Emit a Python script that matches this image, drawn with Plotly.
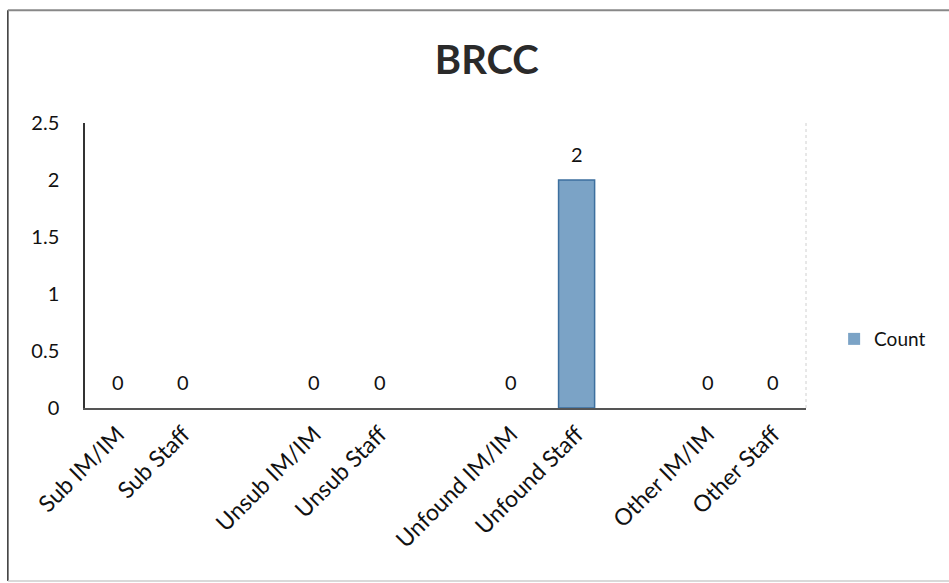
import plotly.graph_objects as go

title = "BRCC"
categories = ["Sub IM/IM", "Sub Staff", "Unsub IM/IM", "Unsub Staff",
              "Unfound IM/IM", "Unfound Staff", "Other IM/IM", "Other Staff"]
counts = [0, 0, 0, 0, 0, 2, 0, 0]
# axis slot order, with blank spacer slots between the groups
slot_order = ["Sub IM/IM", "Sub Staff", " ", "Unsub IM/IM", "Unsub Staff", "  ",
              "Unfound IM/IM", "Unfound Staff", "   ", "Other IM/IM", "Other Staff"]
y_ticks = [0, 0.5, 1, 1.5, 2, 2.5]
y_tick_text = ["0", "0.5", "1", "1.5", "2", "2.5"]

FONT = "Lato, Open Sans, sans-serif"

fig = go.Figure()
fig.add_trace(go.Bar(
    x=categories, y=counts, name="Count",
    marker=dict(color="#7ba3c6",
                line=dict(color="#3d6f9e", width=[1.5 if v > 0 else 0 for v in counts])),
    width=0.55,
))

for c, v in zip(categories, counts):
    fig.add_annotation(x=c, y=v, text=str(v), showarrow=False, yshift=26,
                       font=dict(family=FONT, size=20, color="#111111"))

fig.update_layout(
    width=949, height=583,
    margin=dict(l=85, r=143, t=123, b=175, autoexpand=False),
    paper_bgcolor="white", plot_bgcolor="white",
    title=dict(text="<b>" + title + "</b>", x=0.513, xanchor="center",
               y=0.897, yanchor="middle",
               font=dict(family=FONT, size=40, color="#2a2a2a")),
    showlegend=True,
    legend=dict(x=1.039, y=0.242, xanchor="left", yanchor="middle",
                font=dict(family=FONT, size=19, color="#111111"),
                bgcolor="rgba(0,0,0,0)"),
    xaxis=dict(categoryorder="array", categoryarray=slot_order,
               tickangle=-45, showgrid=False, showline=True,
               linecolor="#555555", linewidth=1.5, ticks="",
               tickfont=dict(family=FONT, size=23, color="#111111"),
               ticklabelstandoff=2,
               range=[-0.5, len(slot_order) - 0.5]),
    yaxis=dict(range=[0, 2.5], tickvals=y_ticks, ticktext=y_tick_text,
               showgrid=False, showline=True, linecolor="#333333", linewidth=1.5,
               ticks="", zeroline=False, ticklabelstandoff=20,
               tickfont=dict(family=FONT, size=20, color="#111111")),
    bargap=0.45,
)

# chart frame: dark left edge, grey top edge, faint bottom edge
fig.add_shape(type="line", xref="paper", yref="paper",
              x0=-0.107, x1=-0.107, y0=-0.607, y1=1.396,
              line=dict(color="#333333", width=1.5))
fig.add_shape(type="line", xref="paper", yref="paper",
              x0=-0.107, x1=1.25, y0=1.396, y1=1.396,
              line=dict(color="#888888", width=2))
fig.add_shape(type="line", xref="paper", yref="paper",
              x0=-0.107, x1=1.25, y0=-0.607, y1=-0.607,
              line=dict(color="#cccccc", width=1.5))
# faint plot-area right edge
fig.add_shape(type="line", xref="paper", yref="paper",
              x0=1, x1=1, y0=0, y1=1,
              line=dict(color="#d0d0d0", width=1, dash="dot"))

fig.write_html("out.html", config={"displayModeBar": False},
               post_script="document.body.style.margin='0';")
